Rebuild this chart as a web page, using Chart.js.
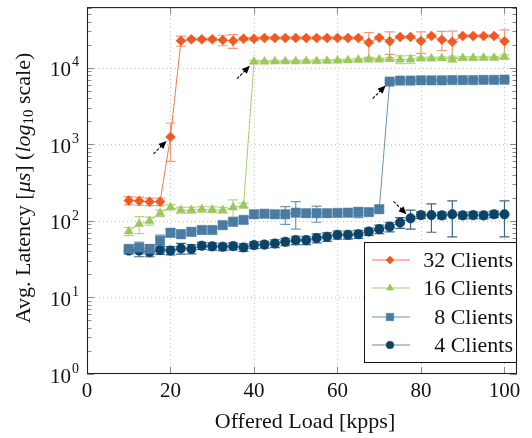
<!DOCTYPE html>
<html lang="en">
<head>
<meta charset="UTF-8">
<title>Avg. Latency vs Offered Load</title>
<script src="https://cdn.jsdelivr.net/npm/chart.js"></script>
<style>
  body { margin: 0; padding: 0; background: #fff; }
  #wrap { width: 532px; height: 438px; }
</style>
</head>
<body>
<div id="wrap"><canvas id="latChart" width="532" height="438"></canvas></div>
<script>
  // offered load (kpps)
  const load = [10, 12.5, 15, 17.5, 20, 22.5, 25, 27.5, 30, 32.5, 35, 37.5, 40, 42.5, 45, 47.5, 50, 52.5, 55,
                57.5, 60, 62.5, 65, 67.5, 70, 72.5, 75, 77.5, 80, 82.5, 85, 87.5, 90, 92.5, 95, 97.5, 100];

  const seriesNames = ['32 Clients', '16 Clients', '8 Clients', '4 Clients'];

  // avg latency in us
  const lat32 = [185, 182, 178, 178, 1250, 22500, 23500, 23500, 23500, 23000, 22500, 24000, 24000, 24500, 24500, 24500, 24500, 24500, 24500,
                 24500, 24500, 24500, 24500, 21300, 24700, 22200, 25300, 25300, 22400, 26000, 23300, 21800, 26000, 26000, 26000, 26000, 22200];
  const err32 = [22, 22, 20, 20, 650, 3400, 1000, 1000, 1000, 3600, 4600, 1000, 1000, 900, 900, 900, 900, 900, 900,
                 900, 900, 900, 900, 7600, 900, 7200, 900, 900, 7000, 900, 6500, 8300, 900, 900, 900, 900, 9000];

  const lat16 = [73, 91, 100, 126, 151, 138, 138, 142, 140, 138, 150, 159, 12000, 12000, 12100, 12100, 12100, 12200, 12200,
                 12300, 12400, 12500, 12700, 12800, 12800, 13000, 12800, 12900, 13200, 13200, 13300, 13000, 13400, 13400, 13500, 13500, 13900];
  const err16 = [9, 23, 12, 12, 12, 12, 12, 12, 12, 12, 38, 12, 500, 500, 500, 500, 500, 500, 500,
                 500, 500, 500, 500, 500, 500, 600, 1500, 1500, 600, 600, 600, 1200, 600, 600, 600, 600, 800];

  const lat8 = [43, 45, 43, 55, 70, 67, 72, 76, 76, 88, 97, 103, 122, 124, 122, 122, 128, 126, 126,
                126, 127, 128, 130, 130, 142, 6600, 6800, 6800, 6850, 6850, 6850, 6900, 6900, 6900, 6950, 6950, 7000];
  const err8 = [5, 8, 6, 10, 8, 8, 8, 8, 8, 9, 10, 10, 12, 12, 12, 32, 50, 12, 30,
                12, 12, 12, 20, 12, 14, 300, 300, 300, 300, 300, 300, 300, 300, 300, 300, 300, 300];

  const lat4 = [41, 41, 39, 41.6, 41, 43.7, 43, 47.3, 46.5, 46, 46.8, 45, 48.3, 49, 50.7, 53.3, 56, 56, 59.6,
                62, 65.8, 65.8, 67, 72.6, 78, 84, 95, 108, 119, 119, 118, 122, 118, 119, 118, 122, 122];
  const err4 = [4, 7, 5, 5, 5, 7, 6, 5, 5, 5, 5, 5, 5, 5, 6, 6, 7, 7, 8,
                8, 8, 8, 8, 8, 10, 12, 15, 30, 12, 48, 12, 60, 12, 12, 12, 12, 60];

  const xTicks = [0, 20, 40, 60, 80, 100];
  const yDecades = [0, 1, 2, 3, 4];

  // [series index, point index] the arrows point at, and whether they come from below
  const arrowAt = [[0, 4, 'below'], [1, 12, 'below'], [2, 25, 'below'], [3, 27, 'above']];

  const serif = '"Liberation Serif", "DejaVu Serif", serif';

  const looks = [
    { marker: '#f05a22', line: '#f37b4f', bar: '#f59a78', style: 'rectRot', r: 5 },
    { marker: '#9bc859', line: '#a5cf6c', bar: '#b3d889', style: 'triangle', r: 5.2 },
    { marker: '#4a7ba3', line: '#6a93b8', bar: '#6f97ba', style: 'rect', r: 6.6 },
    { marker: '#0b4468', line: '#6a8eab', bar: '#3d6788', style: 'circle', r: 4.8 }
  ];
  const allLat = [lat32, lat16, lat8, lat4];
  const allErr = [err32, err16, err8, err4];

  const datasets = seriesNames.map((name, i) => ({
    label: name,
    data: load.map((x, j) => ({ x: x, y: allLat[i][j] })),
    borderColor: looks[i].line,
    borderWidth: 1,
    backgroundColor: looks[i].marker,
    pointBackgroundColor: looks[i].marker,
    pointBorderColor: looks[i].marker,
    pointBorderWidth: 0.5,
    pointStyle: looks[i].style,
    pointRadius: looks[i].r,
    tension: 0
  }));

  const decor = {
    id: 'decor',
    beforeDatasetsDraw(chart) {
      const ctx = chart.ctx, a = chart.chartArea;
      const xs = chart.scales.x, ys = chart.scales.y;
      ctx.save();
      // dotted grid
      ctx.strokeStyle = '#c4c4c4';
      ctx.lineWidth = 1;
      ctx.setLineDash([1, 3]);
      xTicks.forEach(t => {
        if (t === 0) return;
        const px = Math.round(xs.getPixelForValue(t)) + 0.5;
        ctx.beginPath(); ctx.moveTo(px, a.top); ctx.lineTo(px, a.bottom); ctx.stroke();
      });
      yDecades.forEach(d => {
        if (d === 0) return;
        const py = Math.round(ys.getPixelForValue(Math.pow(10, d))) + 0.5;
        ctx.beginPath(); ctx.moveTo(a.left, py); ctx.lineTo(a.right, py); ctx.stroke();
      });
      ctx.setLineDash([]);
      // error bars
      ctx.beginPath(); ctx.rect(a.left, a.top, a.right - a.left, a.bottom - a.top); ctx.clip();
      ctx.lineWidth = 1.2;
      for (let i = allLat.length - 1; i >= 0; i--) {
        ctx.strokeStyle = looks[i].bar;
        load.forEach((x, j) => {
          const v = allLat[i][j], e = allErr[i][j];
          const px = xs.getPixelForValue(x);
          const hi = ys.getPixelForValue(v + e);
          const lo = ys.getPixelForValue(Math.max(v - e, 1));
          ctx.beginPath();
          ctx.moveTo(px, hi); ctx.lineTo(px, lo);
          ctx.moveTo(px - 5, hi); ctx.lineTo(px + 5, hi);
          ctx.moveTo(px - 5, lo); ctx.lineTo(px + 5, lo);
          ctx.stroke();
        });
      }
      ctx.restore();
    },
    afterDatasetsDraw(chart) {
      const ctx = chart.ctx, a = chart.chartArea;
      const xs = chart.scales.x, ys = chart.scales.y;
      ctx.save();

      // ticks (inward, on all four sides)
      ctx.strokeStyle = '#8a8a8a';
      ctx.lineWidth = 1;
      xTicks.forEach(t => {
        const px = Math.round(xs.getPixelForValue(t)) + 0.5;
        ctx.beginPath();
        ctx.moveTo(px, a.bottom); ctx.lineTo(px, a.bottom - 7);
        ctx.moveTo(px, a.top); ctx.lineTo(px, a.top + 7);
        ctx.stroke();
      });
      yDecades.forEach(d => {
        for (let m = 1; m <= 9; m++) {
          const v = m * Math.pow(10, d);
          if (v > ys.max) break;
          const len = m === 1 ? 7 : 4.5;
          const py = Math.round(ys.getPixelForValue(v)) + 0.5;
          ctx.beginPath();
          ctx.moveTo(a.left, py); ctx.lineTo(a.left + len, py);
          ctx.moveTo(a.right, py); ctx.lineTo(a.right - len, py);
          ctx.stroke();
        }
      });

      // frame
      ctx.strokeStyle = '#222';
      ctx.lineWidth = 1.1;
      ctx.strokeRect(a.left + 0.5, a.top + 0.5, a.right - a.left - 1, a.bottom - a.top - 1);

      // tick labels
      ctx.fillStyle = '#111';
      ctx.font = '21px ' + serif;
      ctx.textAlign = 'center';
      ctx.textBaseline = 'middle';
      xTicks.forEach(t => ctx.fillText(String(t), xs.getPixelForValue(t), 391));
      yDecades.forEach(d => {
        const py = ys.getPixelForValue(Math.pow(10, d));
        ctx.font = '21px ' + serif;
        ctx.textAlign = 'right';
        ctx.fillText('10', 71, py + 3);
        ctx.font = '14px ' + serif;
        ctx.textAlign = 'left';
        ctx.fillText(String(d), 72, py - 5);
      });

      // x title
      ctx.font = '22px ' + serif;
      ctx.textAlign = 'center';
      ctx.fillText('Offered Load [kpps]', 305, 422);

      // y title, rotated, with italic parts and subscript
      const parts = [
        ['Avg. Latency [', '22px ' + serif, 0],
        ['μs', 'italic 22px ' + serif, 0],
        ['] (', '22px ' + serif, 0],
        ['log', 'italic 22px ' + serif, 0],
        ['10', '15px ' + serif, 5],
        [' scale)', '22px ' + serif, 0]
      ];
      let total = 0;
      parts.forEach(p => { ctx.font = p[1]; total += ctx.measureText(p[0]).width; });
      ctx.translate(24, 188);
      ctx.rotate(-Math.PI / 2);
      ctx.textAlign = 'left';
      let cx = -total / 2;
      parts.forEach(p => {
        ctx.font = p[1];
        ctx.fillText(p[0], cx, p[2]);
        cx += ctx.measureText(p[0]).width;
      });
      ctx.setTransform(1, 0, 0, 1, 0, 0);

      // arrows
      ctx.strokeStyle = '#000';
      ctx.fillStyle = '#000';
      ctx.lineWidth = 1.1;
      arrowAt.forEach(([si, pj, side]) => {
        const px = xs.getPixelForValue(load[pj]);
        const py = ys.getPixelForValue(allLat[si][pj]);
        const s = side === 'below' ? 1 : -1;
        const tx = px - 4, ty = py + 4 * s;
        const fx = px - 17, fy = py + 17 * s;
        const ang = Math.atan2(ty - fy, tx - fx);
        ctx.setLineDash([3, 1.5]);
        ctx.beginPath(); ctx.moveTo(fx, fy); ctx.lineTo(tx - 5 * Math.cos(ang), ty - 5 * Math.sin(ang)); ctx.stroke();
        ctx.setLineDash([]);
        ctx.beginPath();
        ctx.moveTo(tx, ty);
        ctx.lineTo(tx - 8 * Math.cos(ang) + 3.5 * Math.sin(ang), ty - 8 * Math.sin(ang) - 3.5 * Math.cos(ang));
        ctx.lineTo(tx - 8 * Math.cos(ang) - 3.5 * Math.sin(ang), ty - 8 * Math.sin(ang) + 3.5 * Math.cos(ang));
        ctx.closePath();
        ctx.fill();
      });

      // legend
      const lx = 364, ly = 242, lw = 153, lh = 121;
      ctx.fillStyle = '#fff';
      ctx.fillRect(lx, ly, lw, lh);
      ctx.strokeStyle = '#111';
      ctx.lineWidth = 1;
      ctx.strokeRect(lx + 0.5, ly + 0.5, lw - 1, lh - 1);
      const rowY = [260, 288, 317, 345];
      seriesNames.forEach((name, i) => {
        const y = rowY[i];
        ctx.strokeStyle = looks[i].line;
        ctx.lineWidth = 1.2;
        ctx.beginPath(); ctx.moveTo(372, y); ctx.lineTo(410, y); ctx.stroke();
        ctx.fillStyle = looks[i].marker;
        ctx.strokeStyle = looks[i].marker;
        ctx.lineWidth = 0.5;
        Chart.helpers.drawPoint(ctx, { pointStyle: looks[i].style, radius: looks[i].r * 0.8, rotation: 0, borderWidth: 0.5 }, 390, y);
        ctx.fillStyle = '#111';
        ctx.font = '22px ' + serif;
        ctx.textAlign = 'right';
        ctx.textBaseline = 'middle';
        ctx.fillText(name, 513, y + 1);
      });
      ctx.restore();
    }
  };

  new Chart(document.getElementById('latChart'), {
    type: 'line',
    data: { datasets: datasets },
    options: {
      responsive: false,
      animation: false,
      layout: { padding: { left: 87, right: 15, top: 5, bottom: 64 } },
      plugins: { legend: { display: false }, tooltip: { enabled: false } },
      scales: {
        x: { type: 'linear', min: 0, max: 103, display: false },
        y: { type: 'logarithmic', min: 1, max: 62000, display: false }
      }
    },
    plugins: [decor]
  });
</script>
</body>
</html>
